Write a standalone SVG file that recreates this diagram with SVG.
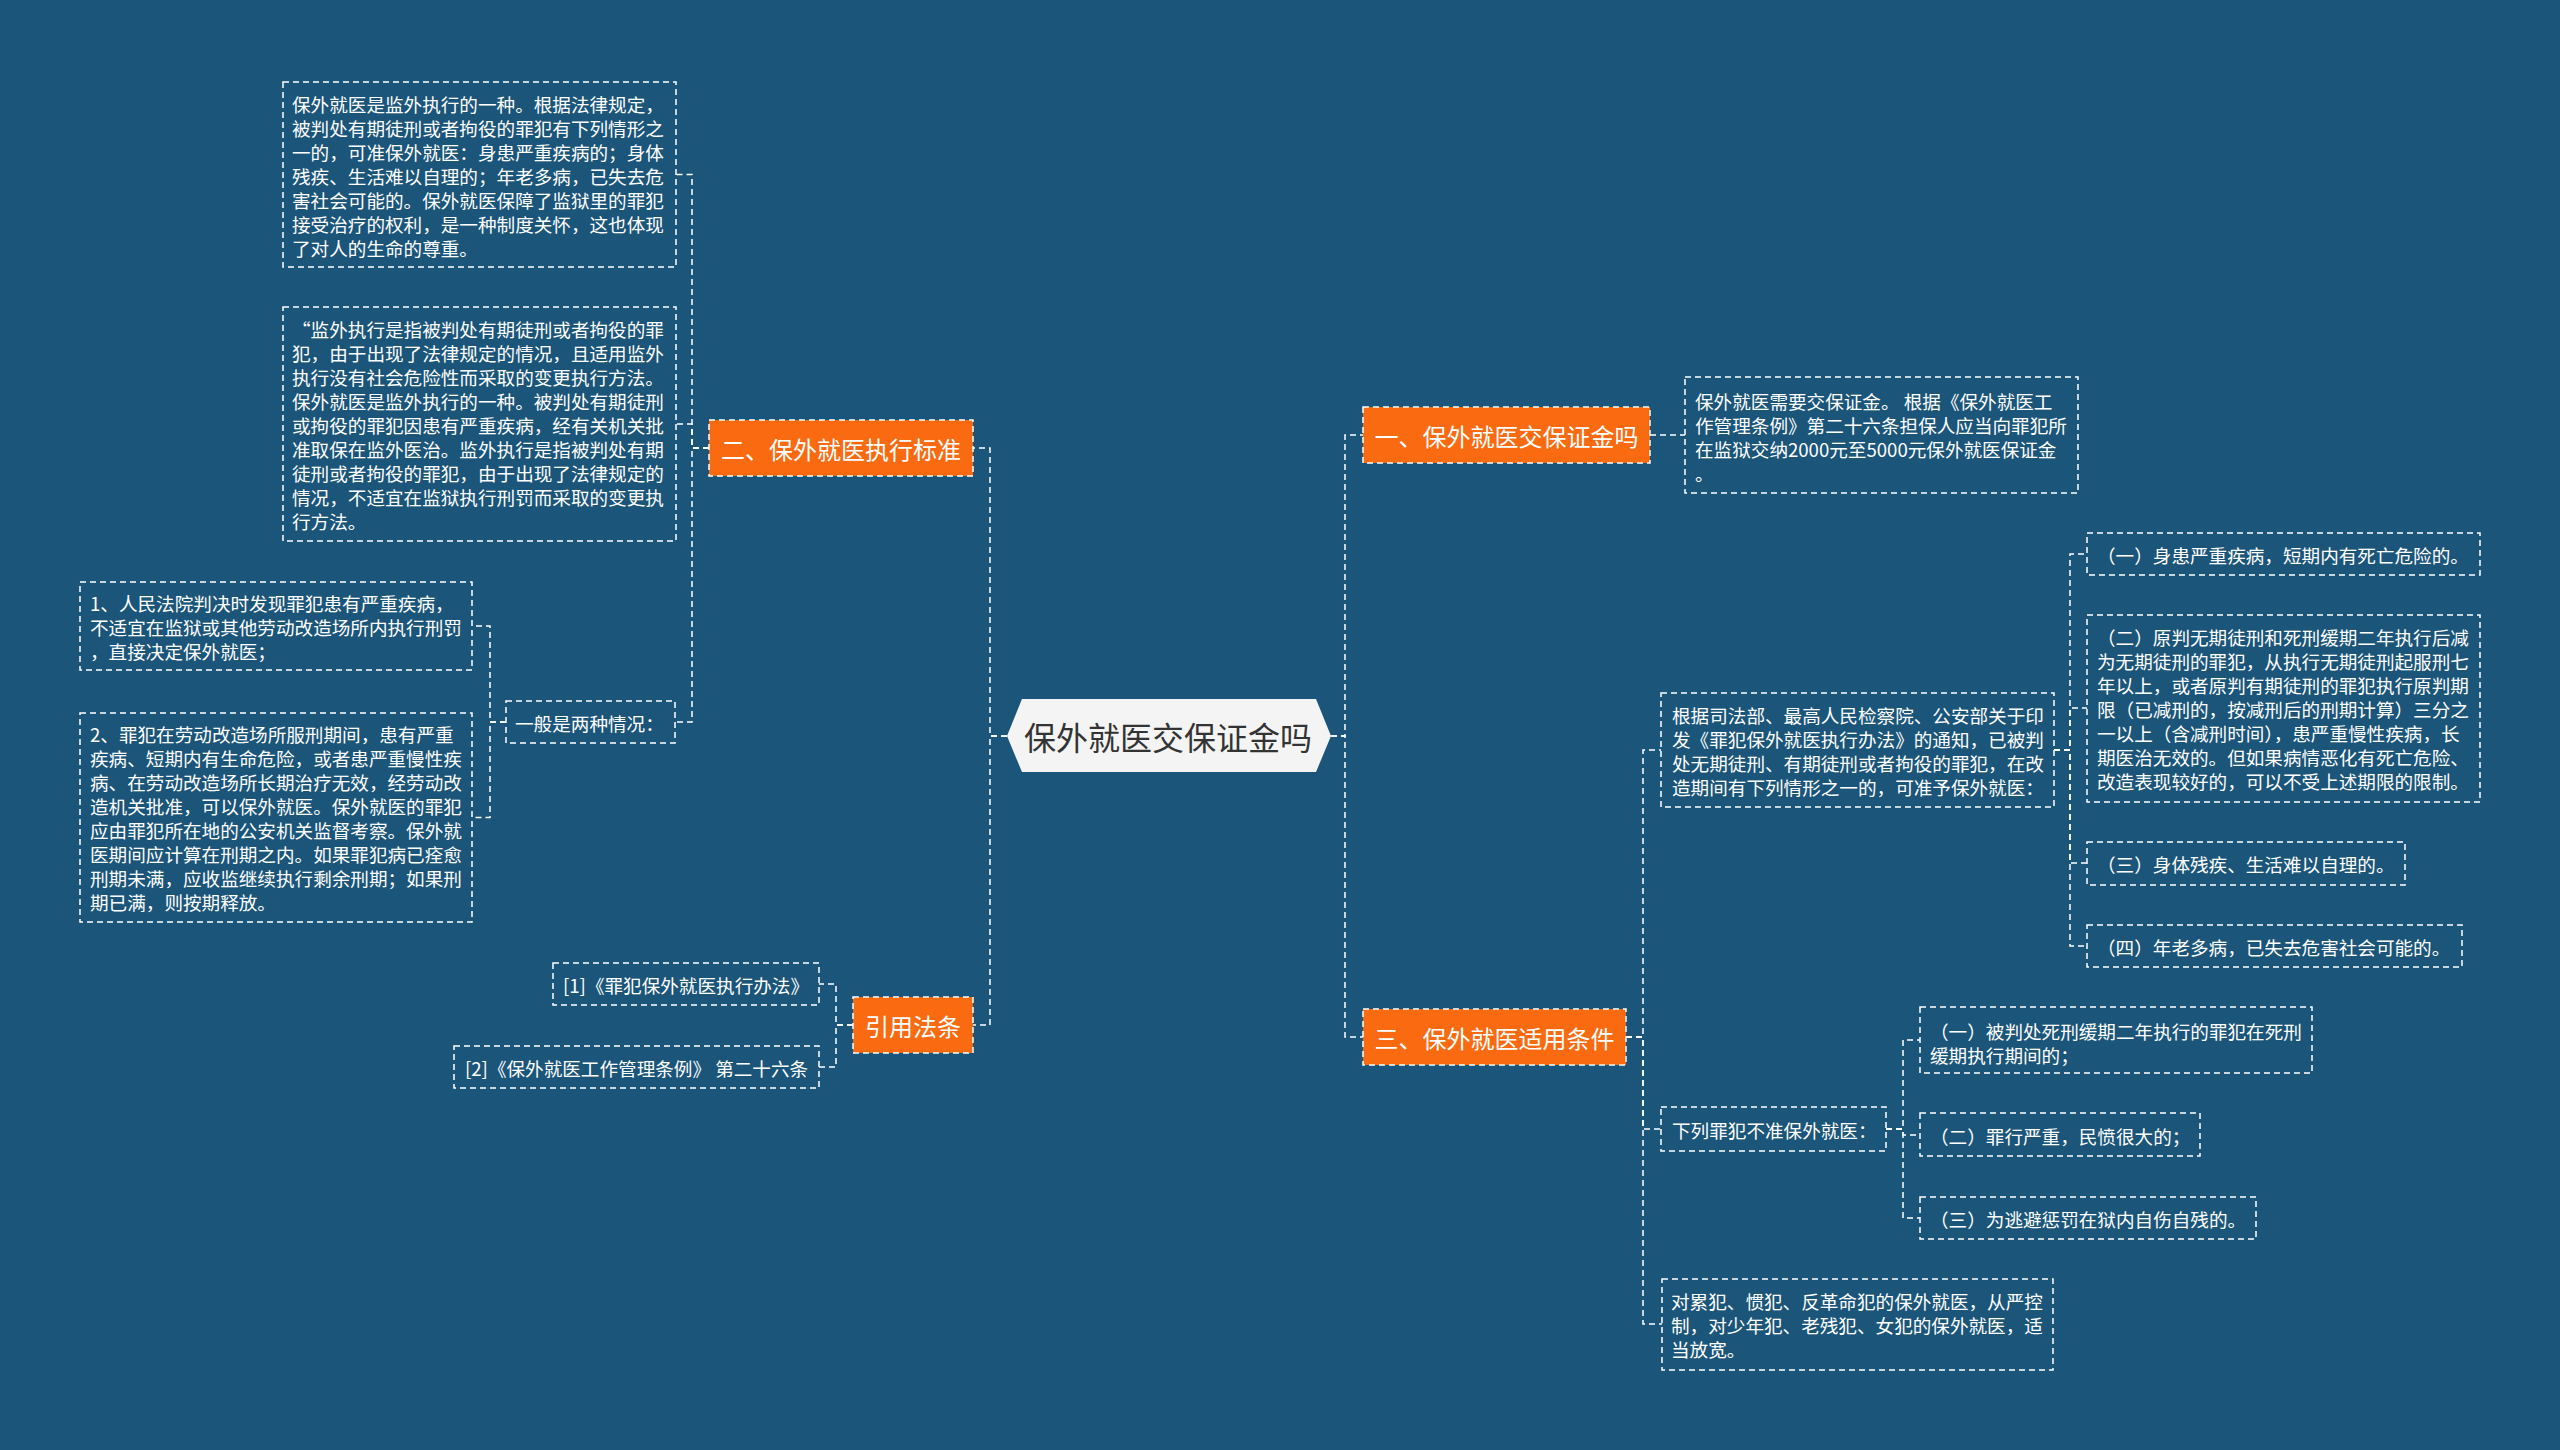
<svg xmlns="http://www.w3.org/2000/svg" width="2560" height="1450" viewBox="0 0 2560 1450">
<style>
.bg{fill:#1b5579}
.box{fill:none;stroke:#ffffff;stroke-width:1.5;stroke-dasharray:6 4}
.onode{fill:#fa6a10;stroke:#ffffff;stroke-width:1.5;stroke-dasharray:6 4}
.t{font-family:"Noto Sans CJK SC","Noto Sans",sans-serif;font-size:18.6px;fill:#ffffff;dominant-baseline:central}
.ot{font-family:"Noto Sans CJK SC","Noto Sans",sans-serif;font-size:24px;fill:#ffffff;dominant-baseline:central;text-anchor:middle}
.ct{font-family:"Noto Sans CJK SC","Noto Sans",sans-serif;font-size:32px;fill:#333333;dominant-baseline:central;text-anchor:middle}
.ln{fill:none;stroke:#ffffff;stroke-width:1.5;stroke-dasharray:6 4}
</style>
<rect class="bg" x="0" y="0" width="2560" height="1450"/>

<g id="connectors">
<path class="ln" d="M1007,736 H990 V448 H973"/>
<path class="ln" d="M1007,736 H990 V1025 H973"/>
<path class="ln" d="M709,448 H692 V174.5 H676"/>
<path class="ln" d="M709,448 H692 V424 H676"/>
<path class="ln" d="M709,448 H692 V722 H675"/>
<path class="ln" d="M506,722 H490 V626 H472"/>
<path class="ln" d="M506,722 H490 V817.5 H472"/>
<path class="ln" d="M853,1025 H836 V984 H819"/>
<path class="ln" d="M853,1025 H836 V1067 H819"/>
<path class="ln" d="M1331,736 H1345 V435 H1363"/>
<path class="ln" d="M1331,736 H1345 V1037 H1363"/>
<path class="ln" d="M1650,435 H1685"/>
<path class="ln" d="M1626,1037 H1643 V750 H1661"/>
<path class="ln" d="M1626,1037 H1643 V1129 H1661"/>
<path class="ln" d="M1626,1037 H1643 V1324 H1662"/>
<path class="ln" d="M2054,750 H2070 V554 H2087"/>
<path class="ln" d="M2054,750 H2070 V708 H2087"/>
<path class="ln" d="M2054,750 H2070 V863 H2087"/>
<path class="ln" d="M2054,750 H2070 V946 H2087"/>
<path class="ln" d="M1886,1129 H1903 V1040 H1920"/>
<path class="ln" d="M1886,1129 H1903 V1135 H1920"/>
<path class="ln" d="M1886,1129 H1903 V1218 H1920"/>
</g>

<g id="center">
<polygon points="1007,736 1022,699 1316,699 1331,736 1316,772 1022,772" fill="#f4f4f4"/>
<text class="ct" x="1168" y="736">保外就医交保证金吗</text>
</g>

<g id="node-er">
<rect class="onode" x="709" y="420" width="264" height="56"/>
<text class="ot" x="841" y="448">二、保外就医执行标准</text>
</g>

<g id="box-a">
<rect class="box" x="283" y="82" width="393" height="185"/>
<text class="t" x="292" y="103">保外就医是监外执行的一种。根据法律规定，</text>
<text class="t" x="292" y="127">被判处有期徒刑或者拘役的罪犯有下列情形之</text>
<text class="t" x="292" y="151">一的，可准保外就医：身患严重疾病的；身体</text>
<text class="t" x="292" y="175">残疾、生活难以自理的；年老多病，已失去危</text>
<text class="t" x="292" y="199">害社会可能的。保外就医保障了监狱里的罪犯</text>
<text class="t" x="292" y="223">接受治疗的权利，是一种制度关怀，这也体现</text>
<text class="t" x="292" y="247">了对人的生命的尊重。</text>
</g>

<g id="box-b">
<rect class="box" x="283" y="307" width="393" height="234"/>
<text class="t" x="292" y="328">“监外执行是指被判处有期徒刑或者拘役的罪</text>
<text class="t" x="292" y="352">犯，由于出现了法律规定的情况，且适用监外</text>
<text class="t" x="292" y="376">执行没有社会危险性而采取的变更执行方法。</text>
<text class="t" x="292" y="400">保外就医是监外执行的一种。被判处有期徒刑</text>
<text class="t" x="292" y="424">或拘役的罪犯因患有严重疾病，经有关机关批</text>
<text class="t" x="292" y="448">准取保在监外医治。监外执行是指被判处有期</text>
<text class="t" x="292" y="472">徒刑或者拘役的罪犯，由于出现了法律规定的</text>
<text class="t" x="292" y="496">情况，不适宜在监狱执行刑罚而采取的变更执</text>
<text class="t" x="292" y="520">行方法。</text>
</g>

<g id="node-yiban">
<rect class="box" x="506" y="701" width="169" height="42"/>
<text class="t" x="515" y="722">一般是两种情况：</text>
</g>

<g id="box-c">
<rect class="box" x="80" y="582" width="392" height="88"/>
<text class="t" x="90" y="602">1、人民法院判决时发现罪犯患有严重疾病，</text>
<text class="t" x="90" y="626">不适宜在监狱或其他劳动改造场所内执行刑罚</text>
<text class="t" x="90" y="650">，直接决定保外就医；</text>
</g>

<g id="box-d">
<rect class="box" x="80" y="713" width="392" height="209"/>
<text class="t" x="90" y="733">2、罪犯在劳动改造场所服刑期间，患有严重</text>
<text class="t" x="90" y="757">疾病、短期内有生命危险，或者患严重慢性疾</text>
<text class="t" x="90" y="781">病、在劳动改造场所长期治疗无效，经劳动改</text>
<text class="t" x="90" y="805">造机关批准，可以保外就医。保外就医的罪犯</text>
<text class="t" x="90" y="829">应由罪犯所在地的公安机关监督考察。保外就</text>
<text class="t" x="90" y="853">医期间应计算在刑期之内。如果罪犯病已痊愈</text>
<text class="t" x="90" y="877">刑期未满，应收监继续执行剩余刑期；如果刑</text>
<text class="t" x="90" y="901">期已满，则按期释放。</text>
</g>

<g id="node-yinyong">
<rect class="onode" x="853" y="997" width="120" height="56"/>
<text class="ot" x="913" y="1025">引用法条</text>
</g>

<g id="ref-1">
<rect class="box" x="553" y="963" width="266" height="42"/>
<text class="t" x="563" y="984">[1]《罪犯保外就医执行办法》</text>
</g>

<g id="ref-2">
<rect class="box" x="454" y="1046" width="365" height="42"/>
<text class="t" x="465" y="1067">[2]《保外就医工作管理条例》 第二十六条</text>
</g>

<g id="node-yi">
<rect class="onode" x="1363" y="407" width="287" height="56"/>
<text class="ot" x="1506.5" y="435">一、保外就医交保证金吗</text>
</g>

<g id="box-e">
<rect class="box" x="1685" y="377" width="393" height="116"/>
<text class="t" x="1695" y="400">保外就医需要交保证金。 根据《保外就医工</text>
<text class="t" x="1695" y="424">作管理条例》第二十六条担保人应当向罪犯所</text>
<text class="t" x="1695" y="448">在监狱交纳2000元至5000元保外就医保证金</text>
<text class="t" x="1695" y="472">。</text>
</g>

<g id="node-san">
<rect class="onode" x="1363" y="1009" width="263" height="56"/>
<text class="ot" x="1494.5" y="1037">三、保外就医适用条件</text>
</g>

<g id="box-f">
<rect class="box" x="1661" y="693" width="393" height="114"/>
<text class="t" x="1672" y="714">根据司法部、最高人民检察院、公安部关于印</text>
<text class="t" x="1672" y="738">发《罪犯保外就医执行办法》的通知，已被判</text>
<text class="t" x="1672" y="762">处无期徒刑、有期徒刑或者拘役的罪犯，在改</text>
<text class="t" x="1672" y="786">造期间有下列情形之一的，可准予保外就医：</text>
</g>

<g id="box-g1">
<rect class="box" x="2087" y="533" width="393" height="42"/>
<text class="t" x="2097" y="554">（一）身患严重疾病，短期内有死亡危险的。</text>
</g>

<g id="box-g2">
<rect class="box" x="2087" y="615" width="393" height="187"/>
<text class="t" x="2097" y="636">（二）原判无期徒刑和死刑缓期二年执行后减</text>
<text class="t" x="2097" y="660">为无期徒刑的罪犯，从执行无期徒刑起服刑七</text>
<text class="t" x="2097" y="684">年以上，或者原判有期徒刑的罪犯执行原判期</text>
<text class="t" x="2097" y="708">限（已减刑的，按减刑后的刑期计算）三分之</text>
<text class="t" x="2097" y="732">一以上（含减刑时间），患严重慢性疾病，长</text>
<text class="t" x="2097" y="756">期医治无效的。但如果病情恶化有死亡危险、</text>
<text class="t" x="2097" y="780">改造表现较好的，可以不受上述期限的限制。</text>
</g>

<g id="box-g3">
<rect class="box" x="2087" y="842" width="318" height="43"/>
<text class="t" x="2097" y="863">（三）身体残疾、生活难以自理的。</text>
</g>

<g id="box-g4">
<rect class="box" x="2087" y="925" width="375" height="42"/>
<text class="t" x="2097" y="946">（四）年老多病，已失去危害社会可能的。</text>
</g>

<g id="box-h">
<rect class="box" x="1661" y="1107" width="225" height="44"/>
<text class="t" x="1672" y="1129">下列罪犯不准保外就医：</text>
</g>

<g id="box-i1">
<rect class="box" x="1920" y="1007" width="392" height="66"/>
<text class="t" x="1930" y="1030">（一）被判处死刑缓期二年执行的罪犯在死刑</text>
<text class="t" x="1930" y="1054">缓期执行期间的；</text>
</g>

<g id="box-i2">
<rect class="box" x="1920" y="1113" width="280" height="43"/>
<text class="t" x="1930" y="1135">（二）罪行严重，民愤很大的；</text>
</g>

<g id="box-i3">
<rect class="box" x="1920" y="1197" width="336" height="42"/>
<text class="t" x="1930" y="1218">（三）为逃避惩罚在狱内自伤自残的。</text>
</g>

<g id="box-j">
<rect class="box" x="1662" y="1279" width="391" height="91"/>
<text class="t" x="1671" y="1300">对累犯、惯犯、反革命犯的保外就医，从严控</text>
<text class="t" x="1671" y="1324">制，对少年犯、老残犯、女犯的保外就医，适</text>
<text class="t" x="1671" y="1348">当放宽。</text>
</g>
</svg>
